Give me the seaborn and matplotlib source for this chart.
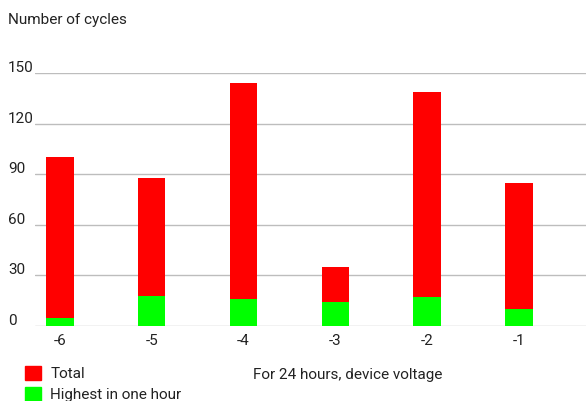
import pandas as pd
import matplotlib.pyplot as plt
import seaborn as sns
from matplotlib.patches import Patch

# Data
voltage = ['-6', '-5', '-4', '-3', '-2', '-1']
total = [100, 88, 144, 35, 139, 85]
highest_hour = [5, 18, 16, 14, 17, 10]
y_ticks = [0, 30, 60, 90, 120, 150]

df = pd.DataFrame({'voltage': voltage, 'total': total, 'highest': highest_hour})

sns.set_theme(style='white')
plt.rcParams['font.family'] = ['Roboto', 'DejaVu Sans']

W, H = 586, 401
fig = plt.figure(figsize=(W / 100, H / 100), dpi=100)
ax = fig.add_axes([35 / W, 1 - 326 / H, 1 - 35 / W, (326 - 73) / H])

# Total bars behind, highest-in-one-hour bars in front
sns.barplot(data=df, x='voltage', y='total', order=voltage, color='#ff0000',
            saturation=1, width=0.3, linewidth=0, ax=ax, zorder=2)
sns.barplot(data=df, x='voltage', y='highest', order=voltage, color='#00ff00',
            saturation=1, width=0.3, linewidth=0, ax=ax, zorder=3)

ax.set_ylim(0, 150)
ax.set_xlim(-0.27, 5.73)
for t in y_ticks:
    ax.axhline(t, color='#bdbdbd', lw=1, zorder=1)
    # y labels sit just on their gridline at the far left
    fig.text(8 / W, (1 - 328 / H) + t / 150 * (326 - 73) / H, str(t),
             ha='left', va='bottom', fontsize=11, color='#222222')

ax.set_yticks([])
ax.set_xlabel('')
ax.set_ylabel('')
ax.tick_params(axis='x', length=0, labelsize=11, labelcolor='#222222', pad=6)
for s in ax.spines.values():
    s.set_visible(False)

fig.text(8 / W, 1 - 20 / H, 'Number of cycles', ha='left', va='center',
         fontsize=11, color='#222222')
fig.text(253 / W, 1 - 375 / H, 'For 24 hours, device voltage', ha='left',
         va='center', fontsize=11, color='#222222')

handles = [Patch(color='#ff0000'), Patch(color='#00ff00')]
fig.legend(handles, ['Total', 'Highest in one hour'], loc='upper left',
           bbox_to_anchor=(19 / W, 1 - 360 / H), frameon=False, fontsize=11,
           handlelength=1.05, handleheight=1.05, handletextpad=0.6,
           labelspacing=0.35, borderaxespad=0, labelcolor='#222222')

fig.savefig('out.png', dpi=100)
